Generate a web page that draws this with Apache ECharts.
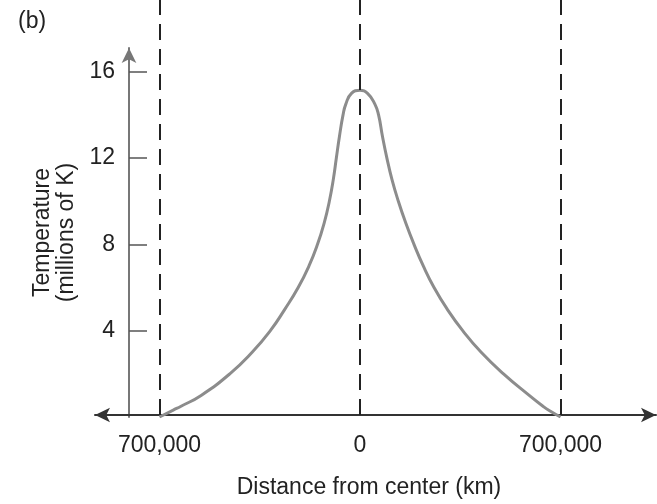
<!DOCTYPE html>
<html>
<head>
<meta charset="utf-8">
<script src="https://cdn.jsdelivr.net/npm/echarts@6/dist/echarts.min.js"></script>
<style>
  html, body { margin: 0; padding: 0; background: #fff; }
  #chart { width: 657px; height: 504px; }
</style>
</head>
<body>
<div id="chart"></div>
<script>
// distance from center (km) and temperature (millions of K)
const distance = [
  -700000, -652000, -624700, -554700, -454500, -376600, -313000, -262100, -215800, -178100, -148300,
  -124900, -107000, -93300, -82600, -71800, -59200, -49500, -29800, 0,
  26300, 51900, 64800, 78500, 93900, 111700, 133900, 159500, 188500, 220900,
  258500, 304300, 358600, 423100, 501000, 590800, 638600, 660500, 700000
]
const temperature = [
  0, 0.32, 0.5, 1, 2, 3, 4, 5, 6, 7, 8,
  9, 10, 11, 12, 13, 14, 14.5, 15, 15.14,
  15, 14.5, 14, 13, 12, 11, 10, 9, 8, 7,
  6, 5, 4, 3, 2, 1, 0.5, 0.3, 0
]
const boundaries = [-700000, 0, 700000] // dashed lines
const xTicks = [-700000, 0, 700000]
const yTicks = [4, 8, 12, 16]

const font = 'Liberation Sans, Arial, Helvetica, sans-serif'
const curve = distance.map((d, i) => [d, temperature[i]])

const chart = echarts.init(document.getElementById('chart'))
chart.setOption({
  animation: false,
  textStyle: { fontFamily: font },
  graphic: [{
    type: 'text',
    left: 18,
    top: 10,
    style: { text: '(b)', font: '23px ' + font, fill: '#222' }
  }],
  grid: [
    // curve + temperature axis
    { left: 129, right: 1, top: 48, bottom: 87 },
    // distance axis + dashed lines, full height
    { left: 95, right: 1, top: 0, bottom: 87 }
  ],
  xAxis: [
    {
      gridIndex: 0,
      type: 'value',
      min: -806485,
      max: 1033419,
      show: false
    },
    {
      gridIndex: 1,
      type: 'value',
      min: -925189,
      max: 1033419,
      name: 'Distance from center (km)',
      nameLocation: 'middle',
      nameGap: 61,
      nameTextStyle: { fontSize: 23, color: '#222', fontFamily: font, padding: [0, 13, 0, 0] },
      axisLine: {
        onZero: false,
        symbol: ['arrow', 'arrow'],
        symbolSize: [11, 15],
        lineStyle: { color: '#333', width: 2 }
      },
      axisTick: { show: false },
      splitLine: { show: false },
      axisLabel: {
        customValues: xTicks,
        margin: 19,
        fontSize: 23,
        color: '#222',
        formatter: v => Math.abs(v).toLocaleString('en-US')
      }
    }
  ],
  yAxis: [
    {
      gridIndex: 0,
      type: 'value',
      min: 0,
      max: 17.1,
      name: 'Temperature\n(millions of K)',
      nameLocation: 'middle',
      nameGap: 48,
      nameTextStyle: { fontSize: 23, lineHeight: 24, color: '#222', fontFamily: font },
      axisLine: {
        show: true,
        onZero: false,
        symbol: ['none', 'arrow'],
        symbolSize: [11, 15],
        lineStyle: { color: '#777', width: 2 }
      },
      axisTick: {
        show: true,
        inside: true,
        length: 18,
        customValues: yTicks,
        lineStyle: { color: '#555', width: 1.5 }
      },
      axisLabel: {
        customValues: yTicks,
        margin: 14,
        fontSize: 23,
        color: '#222'
      },
      splitLine: { show: false }
    },
    {
      gridIndex: 1,
      type: 'value',
      min: 0,
      max: 1,
      show: false
    }
  ],
  series: [
    {
      type: 'line',
      xAxisIndex: 0,
      yAxisIndex: 0,
      data: curve,
      smooth: 0.5,
      showSymbol: false,
      lineStyle: { color: '#8c8c8c', width: 3 }
    },
    {
      type: 'line',
      xAxisIndex: 1,
      yAxisIndex: 1,
      data: [],
      markLine: {
        silent: true,
        symbol: 'none',
        label: { show: false },
        lineStyle: { color: '#222', width: 2, type: [16, 9] },
        data: boundaries.map(b => ({ xAxis: b }))
      }
    }
  ]
})
</script>
</body>
</html>
